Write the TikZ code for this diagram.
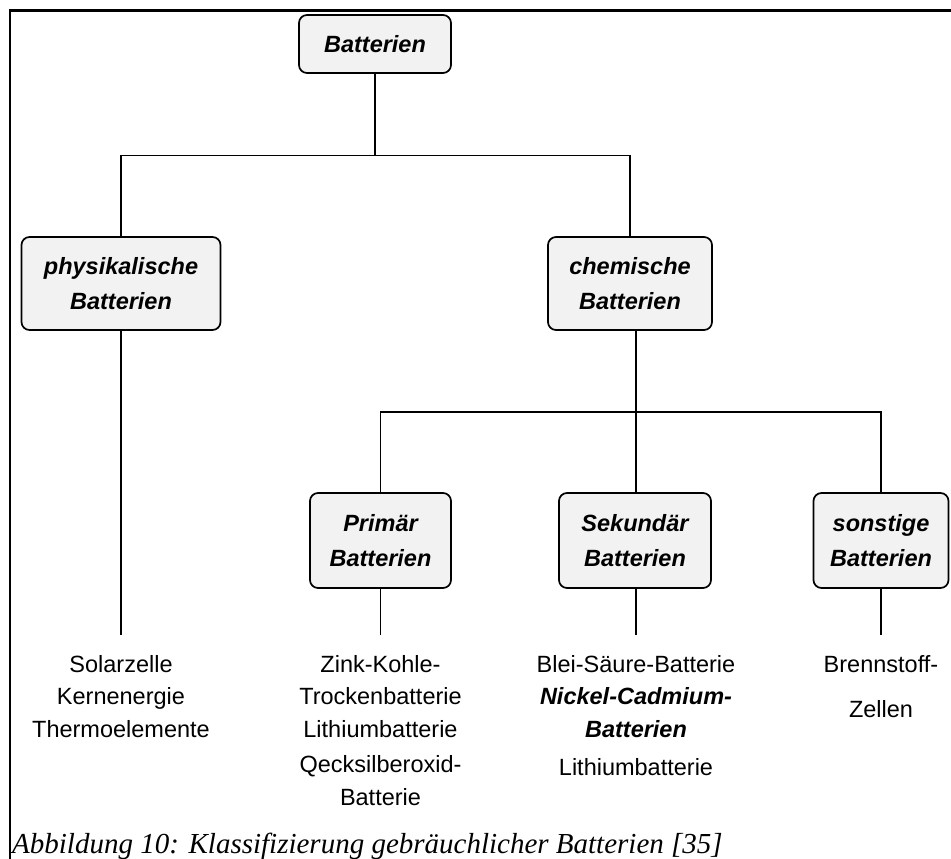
\documentclass[tikz,border=0pt]{standalone}
\usepackage{fontspec}
\setmainfont{Liberation Sans}
\newfontfamily\capfont{Liberation Serif}
\usetikzlibrary{positioning}

\definecolor{boxgray}{HTML}{F2F2F2}

\tikzset{
    box/.style={draw, line width=1.7pt, rounded corners=8pt, fill=boxgray,
        align=center, inner sep=0pt,
        font=\bfseries\itshape\fontsize{23.5}{35}\selectfont},
    leaf/.style={align=center, inner sep=0pt,
        font=\fontsize{23.5}{32.5}\selectfont},
    conn/.style={line width=1.4pt}
}

\begin{document}
\begin{tikzpicture}[x=1pt, y=-1pt, node distance=20pt]
    \useasboundingbox (0,0) rectangle (951,859);
    \draw[line width=2.5pt] (10,859) -- (10,10.5) -- (951,10.5);

    % boxes
    \node[box, minimum width=152pt, minimum height=58pt] (bat) at (375,44) {Batterien};
    \node[box, minimum width=199pt, minimum height=93pt] (phys) at (121,283.5) {physikalische\\Batterien};
    \node[box, minimum width=164pt, minimum height=93pt] (chem) at (630,283.5) {chemische\\Batterien};
    \node[box, minimum width=141pt, minimum height=95pt] (prim) at (380.5,540.5) {Primär\\Batterien};
    \node[box, minimum width=152pt, minimum height=95pt] (sek) at (635,540.5) {Sekundär\\Batterien};
    \node[box, minimum width=135pt, minimum height=95pt] (sonst) at (881,540.5) {sonstige\\Batterien};

    \coordinate (j1) at (bat.south |- 0,155.5);
    \coordinate (j2) at (636,412);
    \coordinate (base) at (0,635);
    \foreach \n in {phys,prim,sonst}
        \coordinate (\n-end) at (\n.south |- base);
    \coordinate (sek-end) at (j2 |- base);

    % leaves
    \node[leaf, below=of phys-end] (physl) {Solarzelle\\Kernenergie\\Thermoelemente};
    \node[leaf, below=of prim-end] (priml) {Zink-Kohle-\\Trockenbatterie\\Lithiumbatterie\\[3pt]Qecksilberoxid-\\Batterie};
    \node[leaf, below=of sek-end] (sekl) {Blei-Säure-Batterie\\{\bfseries\itshape Nickel-Cadmium-}\\{\bfseries\itshape Batterien}\\[6pt]Lithiumbatterie};
    \node[leaf, below=of sonst-end] (sonstl) {Brennstoff-\\[13pt]Zellen};

    % connectors
    \draw[conn] (bat.south) -- (j1) -| (phys.north);
    \draw[conn] (j1) -| (chem.north);
    \draw[conn] (chem.south -| j2) -- (j2) -| (prim.north);
    \draw[conn] (j2) -| (sonst.north);
    \draw[conn] (j2) -- (sek.north -| j2);
    \draw[conn] (sek.south -| j2) -- (sek-end);
    \foreach \n in {phys,prim,sonst}
        \draw[conn] (\n.south) -- (\n-end);

    \node[anchor=base west, inner sep=0pt, font=\capfont\itshape\fontsize{29}{34}\selectfont] (cap) at (12,853)
        {Abbildung 10: Klassifizierung gebräuchlicher Batterien [35]};
\end{tikzpicture}
\end{document}
